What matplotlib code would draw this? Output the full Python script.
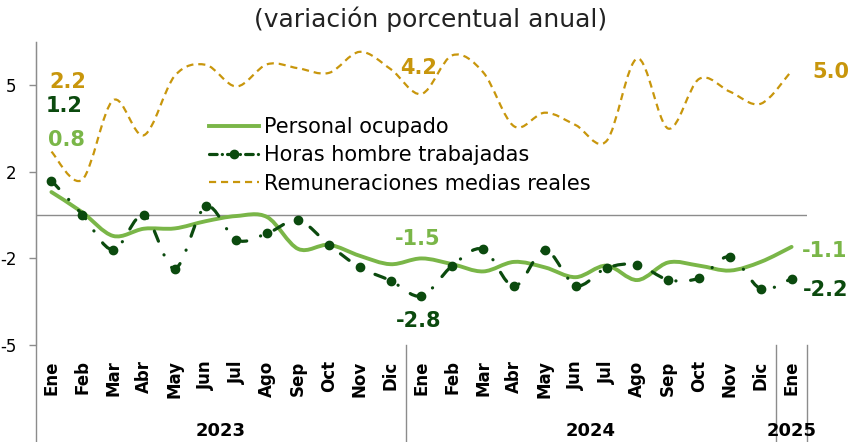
import numpy as np
import matplotlib
matplotlib.use("Agg")
import matplotlib.pyplot as plt
import matplotlib.transforms as mtransforms
from matplotlib.path import Path
from matplotlib.patches import PathPatch
from matplotlib.lines import Line2D

MONTHS = ["Ene", "Feb", "Mar", "Abr", "May", "Jun", "Jul", "Ago", "Sep", "Oct", "Nov", "Dic",
          "Ene", "Feb", "Mar", "Abr", "May", "Jun", "Jul", "Ago", "Sep", "Oct", "Nov", "Dic",
          "Ene"]
YEARS = ["2023", "2024", "2025"]

personal = [0.8, 0.1, -0.72, -0.47, -0.46, -0.21, -0.03, -0.07, -1.17, -1.03, -1.41, -1.7,
            -1.5, -1.7, -1.95, -1.62, -1.81, -2.15, -1.75, -2.25, -1.64, -1.75, -1.92, -1.62,
            -1.1]
horas = [1.2, 0.02, -1.2, 0.0, -1.85, 0.3, -0.86, -0.63, -0.18, -1.03, -1.81, -2.27,
         -2.8, -1.75, -1.18, -2.47, -1.21, -2.44, -1.83, -1.72, -2.24, -2.18, -1.44, -2.55,
         -2.2]
remun = [2.2, 1.23, 3.98, 2.77, 4.83, 5.21, 4.46, 5.23, 5.09, 4.93, 5.66, 5.06,
         4.2, 5.54, 4.95, 3.08, 3.55, 3.12, 2.57, 5.43, 3.0, 4.72, 4.28, 3.86,
         5.0]

YTICKS = [-4.5, -1.5, 1.5, 4.5]
YTICK_LABELS = ["-5", "-2", "2", "5"]

C_PERS = "#7ab648"
C_HORAS = "#0b4a0e"
C_REM = "#c8960c"
C_AXIS = "#8c8c8c"

HORAS_DASH = (0, (3.4, 4.6, 0.05, 4.6))
REM_DASH = (0, (3.2, 2.2))


def smooth_path(y):
    # bezier through every point, like a spreadsheet "smoothed line"
    pts = np.column_stack([np.arange(len(y), dtype=float), np.asarray(y, dtype=float)])
    n = len(pts)
    verts = [pts[0]]
    codes = [Path.MOVETO]
    for i in range(n - 1):
        p0 = pts[i - 1] if i > 0 else pts[i]
        p1, p2 = pts[i], pts[i + 1]
        p3 = pts[i + 2] if i + 2 < n else pts[i + 1]
        verts += [p1 + (p2 - p0) / 6.0, p2 - (p3 - p1) / 6.0, p2]
        codes += [Path.CURVE4] * 3
    return Path(verts, codes)


plt.rcParams["font.family"] = "DejaVu Sans"
fig = plt.figure(figsize=(8.62, 4.42), dpi=100)
ax = fig.add_axes([36 / 862, 97 / 442, 771 / 862, 303 / 442])

ax.add_patch(PathPatch(smooth_path(remun), facecolor="none", edgecolor=C_REM, lw=1.6,
                       linestyle=REM_DASH, capstyle="butt", zorder=3))
ax.add_patch(PathPatch(smooth_path(personal), facecolor="none", edgecolor=C_PERS, lw=2.8,
                       capstyle="round", zorder=4))
ax.add_patch(PathPatch(smooth_path(horas), facecolor="none", edgecolor=C_HORAS, lw=2.3,
                       linestyle=HORAS_DASH, capstyle="round", zorder=5))
ax.plot(range(len(horas)), horas, linestyle="none", marker="o", markersize=6,
        color=C_HORAS, zorder=6)

ax.axhline(0, color=C_AXIS, lw=1.0, zorder=1)
ax.set_xlim(-0.5, len(MONTHS) - 0.5)
ax.set_ylim(-4.5, 6)

for s in ["top", "right", "bottom"]:
    ax.spines[s].set_visible(False)
ax.spines["left"].set_color(C_AXIS)
ax.set_yticks(YTICKS)
ax.set_yticklabels(YTICK_LABELS, fontsize=12)
ax.tick_params(axis="y", length=5, width=1, color=C_AXIS, pad=9)
ax.set_xticks(range(len(MONTHS)))
ax.set_xticklabels(MONTHS, rotation=90, fontsize=12, fontweight="bold")
ax.tick_params(axis="x", length=0, pad=11)

# category axis separators running down to the year row
trans = mtransforms.blended_transform_factory(ax.transData, ax.transAxes)
for xs in [-0.5, 11.5, 23.5, 24.5]:
    top = 1.0 if xs == -0.5 else 0.0
    ax.plot([xs, xs], [top, -0.33], transform=trans, color=C_AXIS, lw=1.0, clip_on=False)
for year, xc in zip(YEARS, [5.5, 17.5, 24.0]):
    ax.text(xc, -0.285, year, transform=trans, ha="center", va="center",
            fontsize=13, fontweight="bold")

# data labels
lab = dict(textcoords="offset points", ha="center", va="center", fontsize=15,
           fontweight="bold")
ax.annotate("2.2", (0, remun[0]), xytext=(11.5, 50.5), color=C_REM, **lab)
ax.annotate("1.2", (0, horas[0]), xytext=(9, 54), color=C_HORAS, **lab)
ax.annotate("0.8", (0, personal[0]), xytext=(11, 37.5), color=C_PERS, **lab)
ax.annotate("4.2", (12, remun[12]), xytext=(-2, 18.5), color=C_REM, **lab)
ax.annotate("-1.5", (12, personal[12]), xytext=(-3, 14), color=C_PERS, **lab)
ax.annotate("-2.8", (12, horas[12]), xytext=(-2, -18), color=C_HORAS, **lab)
ax.annotate("5.0", (24, remun[24]), xytext=(28, -1), color=C_REM, **lab)
ax.annotate("-1.1", (24, personal[24]), xytext=(24, -3), color=C_PERS, **lab)
ax.annotate("-2.2", (24, horas[24]), xytext=(24.5, -8.5), color=C_HORAS, **lab)

handles = [
    Line2D([], [], color=C_PERS, lw=2.8),
    Line2D([], [], color=C_HORAS, lw=2.3, linestyle=(0, (2.4, 1.6, 0.05, 1.6)),
           dash_capstyle="round", marker="o", markersize=6),
    Line2D([], [], color=C_REM, lw=1.6, linestyle=REM_DASH),
]
fig.legend(handles, ["Personal ocupado", "Horas hombre trabajadas",
                     "Remuneraciones medias reales"],
           loc="upper left", bbox_to_anchor=(209 / 862, 1 - 117 / 442), frameon=False,
           fontsize=15, handlelength=2.4, handletextpad=0.25, labelspacing=0.4,
           borderpad=0, borderaxespad=0)

fig.text(0.499, 1 - 19 / 442, "(variación porcentual anual)", ha="center", va="center",
         fontsize=18, color="#222222")

fig.savefig("out.png", dpi=100)
